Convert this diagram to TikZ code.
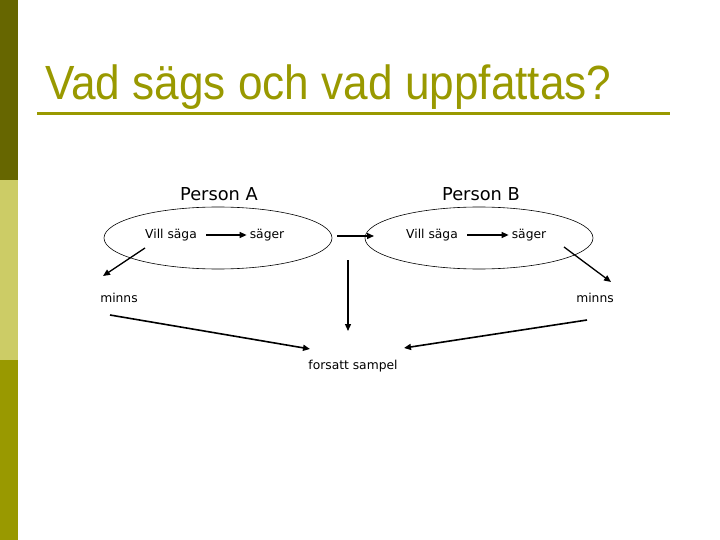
\documentclass[tikz,border=0pt]{standalone}
\usepackage{fontspec}
\setmainfont{DejaVu Sans}
\newfontfamily\titelfont{Liberation Sans}
\usetikzlibrary{arrows.meta}
\usetikzlibrary{shapes.geometric}
\definecolor{olivmork}{HTML}{666600}
\definecolor{olivljus}{HTML}{CCCC66}
\definecolor{oliv}{HTML}{999900}

\tikzset{
  liten/.style={font=\fontsize{12.3}{14}\selectfont, inner sep=0pt},
  person/.style={font=\fontsize{17.8}{21}\selectfont, inner sep=0pt},
  pil/.style={-{Triangle[length=7pt,width=6pt]}, line width=1.3pt},
  cirkel/.style={draw, ellipse, line width=0.6pt, minimum width=228pt, minimum height=62pt}
}

\begin{document}
\begin{tikzpicture}[x=1pt,y=-1pt]
        % bakgrund och list
        \useasboundingbox (0,0) rectangle (720,540);
        \fill[olivmork] (0,0) rectangle (18,180);
        \fill[olivljus] (0,180) rectangle (18,360);
        \fill[oliv] (0,360) rectangle (18,540);
        \node[anchor=base west, inner sep=0pt, text=oliv, font=\titelfont\fontsize{48}{56}\selectfont] (titel) at (45,100) {\scalebox{0.92}[1]{Vad sägs och vad uppfattas?}};
        \coordinate (linjeV) at (37,114);
        \coordinate (linjeH) at (670,114);
        \draw[oliv, line width=3pt] (linjeV) -- (linjeH);
        % Person A
        \node[cirkel] (ellA) at (218,238) {};
        \node[person] (persA) at (219,194) {Person A};
        \node[liten] (villA) at (171,235) {Vill säga};
        \node[liten] (sagerA) at (267,235) {säger};
        \draw[pil, shorten <=9pt, shorten >=3pt] (villA) -- (sagerA);
        % Person B
        \node[cirkel] (ellB) at (479,238) {};
        \node[person] (persB) at (481,194) {Person B};
        \node[liten] (villB) at (432,235) {Vill säga};
        \node[liten] (sagerB) at (529,235) {säger};
        \draw[pil, shorten <=9pt, shorten >=3pt] (villB) -- (sagerB);
        % minns och sampel
        \node[liten] (minnsA) at (119,298) {minns};
        \node[liten] (minnsB) at (595,298) {minns};
        \node[liten] (sampel) at (353,366) {forsatt sampel};
        \coordinate (ab1) at (337,236);
        \coordinate (ab2) at (374,236);
        \coordinate (ned1) at (348,260);
        \coordinate (ned2) at (348,331);
        \coordinate (mA1) at (145,248);
        \coordinate (mA2) at (103,276);
        \coordinate (mB1) at (564,247);
        \coordinate (mB2) at (611,282);
        \coordinate (sA1) at (110,315);
        \coordinate (sA2) at (310,349);
        \coordinate (sB1) at (587,320);
        \coordinate (sB2) at (404,348);
        \draw[pil] (ab1) -- (ab2);
        \draw[pil] (ned1) -- (ned2);
        \draw[pil] (mA1) -- (mA2);
        \draw[pil] (mB1) -- (mB2);
        \draw[pil, line width=1.6pt] (sA1) -- (sA2);
        \draw[pil, line width=1.6pt] (sB1) -- (sB2);
\end{tikzpicture}
\end{document}
